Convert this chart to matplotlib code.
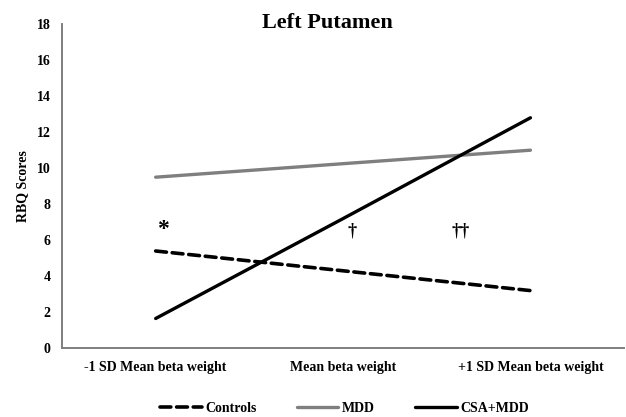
import numpy as np
from matplotlib import pyplot as plt

# data
categories = ["-1 SD Mean beta weight", "Mean beta weight", "+1 SD Mean beta weight"]
controls = [5.4, 4.3, 3.2]
mdd = [9.5, 10.25, 11.0]
csa_mdd = [1.65, 7.2, 12.8]
yticks = list(range(0, 20, 2))

# significance markers: (category index, y value, text)
markers = [(0.04, 6.6, "*"), (1.05, 6.5, "\u2020"), (1.63, 6.5, "\u2020\u2020")]

plt.rcParams["font.family"] = ["Liberation Serif", "DejaVu Serif"]
plt.rcParams["font.weight"] = "bold"

fig = plt.figure(figsize=(6.26, 4.17), dpi=100)
ax = fig.add_axes([0.099, 0.165, 0.898, 0.777])

x = np.arange(len(categories))
ax.plot(x, controls, color="black", lw=2.6, ls=(0, (3, 1.6)), label="Controls",
        solid_capstyle="round", dash_capstyle="round")
ax.plot(x, mdd, color="#7f7f7f", lw=2.4, label="MDD", solid_capstyle="round")
ax.plot(x, csa_mdd, color="black", lw=2.4, label="CSA+MDD", solid_capstyle="round")

for xi, yi, txt in markers:
    size = 17 if txt == "*" else 13
    ax.text(xi, yi, txt, ha="center", va="center", fontsize=size, fontweight="bold")

ax.set_xlim(-0.5, 2.5)
ax.set_ylim(0, 18)
ax.set_yticks(yticks)
ax.set_xticks(x)
ax.set_xticklabels(categories, fontsize=10, fontweight="bold")
ax.tick_params(axis="y", labelsize=10, length=0, pad=8)
ax.tick_params(axis="x", length=0, pad=9)
for lab in ax.get_yticklabels():
    lab.set_fontweight("bold")

for s in ["top", "right"]:
    ax.spines[s].set_visible(False)
for s in ["left", "bottom"]:
    ax.spines[s].set_color("#7f7f7f")
    ax.spines[s].set_linewidth(1.4)

ax.set_ylabel("RBQ Scores", fontsize=10, fontweight="bold", labelpad=6)
ax.text(0.473, 1.005, "Left Putamen", transform=ax.transAxes, ha="center", va="center",
        fontsize=16, fontweight="bold")

fig.legend(loc="lower center", bbox_to_anchor=(0.55, -0.025), ncol=3, frameon=False,
           fontsize=10, handlelength=3.0, handletextpad=0.25, columnspacing=2.9)

fig.savefig("out.png", dpi=100)
